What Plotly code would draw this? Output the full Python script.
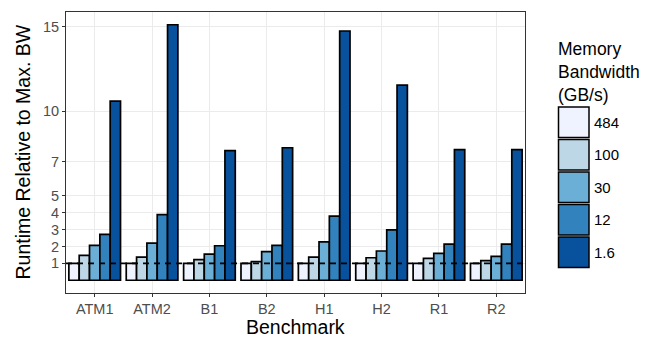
import plotly.graph_objects as go

benchmarks = ["ATM1", "ATM2", "B1", "B2", "H1", "H2", "R1", "R2"]
bandwidths = ["484", "100", "30", "12", "1.6"]
colors = ["#eff3ff", "#bdd7e7", "#6baed6", "#3182bd", "#08519c"]

bw_484 = [1.0, 1.0, 1.0, 1.0, 1.0, 1.0, 1.0, 1.0]
bw_100 = [1.47, 1.37, 1.22, 1.10, 1.37, 1.33, 1.29, 1.16]
bw_30 = [2.06, 2.20, 1.55, 1.69, 2.27, 1.73, 1.59, 1.41]
bw_12 = [2.71, 3.88, 2.04, 2.06, 3.80, 2.98, 2.14, 2.14]
bw_1_6 = [10.6, 15.12, 7.67, 7.84, 14.75, 11.55, 7.73, 7.73]
series = [bw_484, bw_100, bw_30, bw_12, bw_1_6]

y_ticks = [1, 2, 3, 4, 5, 7, 10, 15]

# page offset (body margin) compensation
O = 8
SW, SH = 655, 340
W, H = SW - O, SH - O
L, T = 66 - O, 12 - O
R, B = 130, 47
PW, PH = W - L - R, H - T - B

def px(x):
    return (x - O - L) / PW

def py(y):
    return (SH - B - y) / PH

fig = go.Figure()
for name, vals, col in zip(bandwidths, series, colors):
    fig.add_trace(go.Bar(
        x=benchmarks, y=vals, name=name, marker=dict(color=col, line=dict(color="black", width=1.7)),
        showlegend=False,
    ))

ymax = max(bw_1_6)
pad = ymax * 0.05
fig.update_layout(
    width=W, height=H, margin=dict(l=L, r=R, t=T, b=B),
    paper_bgcolor="white", plot_bgcolor="white",
    barmode="group", bargap=0.1, bargroupgap=0,
    font=dict(family="Liberation Sans, Arial, sans-serif", color="black"),
)
fig.update_xaxes(
    showgrid=True, gridcolor="#ebebeb", gridwidth=1.1,
    showline=True, linecolor="#333333", linewidth=1, mirror=True,
    ticks="outside", ticklen=3, tickcolor="#333333",
    tickfont=dict(size=14.5, color="#4d4d4d"),
)
fig.update_yaxes(
    range=[-pad, ymax + pad], tickvals=y_ticks, ticktext=[str(v) for v in y_ticks],
    showgrid=True, gridcolor="#ebebeb", gridwidth=1.1, zeroline=False,
    showline=True, linecolor="#333333", linewidth=1, mirror=True,
    ticks="outside", ticklen=3, tickcolor="#333333",
    tickfont=dict(size=14.5, color="#4d4d4d"),
)

# axis titles
fig.add_annotation(xref="paper", yref="paper", x=0.5, y=py(327), xanchor="center", yanchor="middle",
                   text="Benchmark", showarrow=False, font=dict(size=19.5, color="black"))
fig.add_annotation(xref="paper", yref="paper", x=px(22), y=0.5, xanchor="center", yanchor="middle",
                   text="Runtime Relative to Max. BW", showarrow=False, textangle=-90,
                   font=dict(size=19.5, color="black"))

fig.add_shape(type="line", xref="paper", yref="y", x0=0, x1=1, y0=1, y1=1,
              line=dict(color="black", width=1.6, dash="6px,5px"), layer="above")

# legend (manual)
fig.add_annotation(xref="paper", yref="paper", x=px(556), y=py(37), xanchor="left", yanchor="top",
                   text="Memory<br>Bandwidth<br>(GB/s)", showarrow=False, align="left",
                   font=dict(size=17.5, color="black"))
key_top = 106
key_h = 32.5
for i, (name, col) in enumerate(zip(bandwidths, colors)):
    y0 = key_top + i * key_h
    fig.add_shape(type="rect", xref="paper", yref="paper",
                  x0=px(558.5), x1=px(589), y0=py(y0 + 1), y1=py(y0 + key_h - 1),
                  fillcolor=col, line=dict(color="black", width=1.5))
    fig.add_annotation(xref="paper", yref="paper", x=px(592), y=py(y0 + key_h / 2),
                       xanchor="left", yanchor="middle", text=name, showarrow=False,
                       font=dict(size=15, color="black"))

fig.write_html("out.html")
